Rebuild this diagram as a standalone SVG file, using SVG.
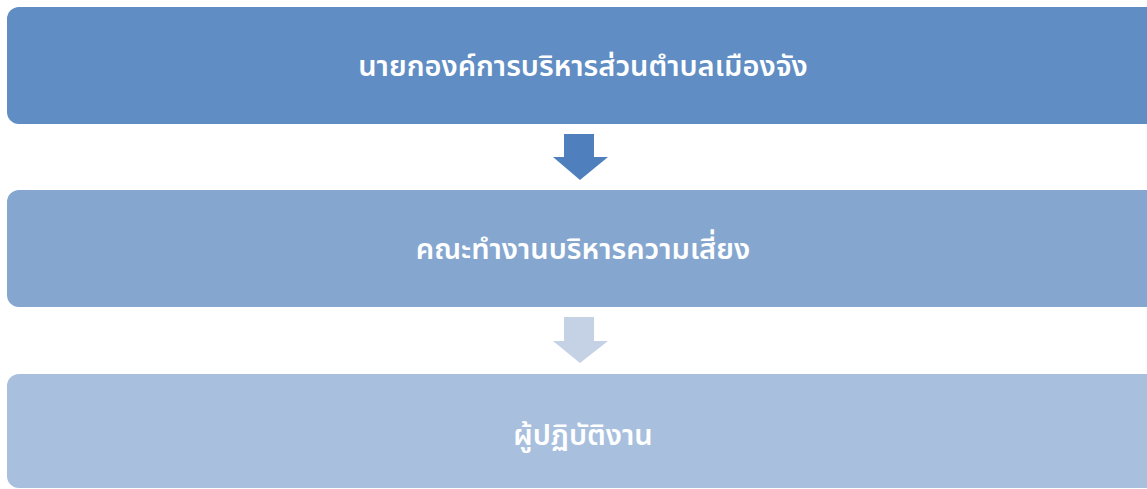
<svg xmlns="http://www.w3.org/2000/svg" width="1147" height="489" viewBox="0 0 1147 489">
<style>
.lbl{font-family:"Noto Sans Thai","Noto Sans","DejaVu Sans",sans-serif;font-size:29px;font-weight:600;fill:#ffffff;text-anchor:middle;dominant-baseline:central}
</style>
<rect width="1147" height="489" fill="#ffffff"/>
<g id="connectors">
<polygon points="564,134 594,134 594,157 608,157 580,180 553,157 564,157" fill="#4f7fbc"/>
<polygon points="564,317 594,317 594,341 608,341 580,363 553,341 564,341" fill="#c5d2e6"/>
</g>
<g id="node1">
<rect x="7" y="7" width="1160" height="117" rx="12" fill="#5f8dc4"/>
<text class="lbl" x="583" y="67">นายกองค์การบริหารส่วนตำบลเมืองจัง</text>
</g>
<g id="node2">
<rect x="7" y="190" width="1160" height="117" rx="12" fill="#85a7cf"/>
<text class="lbl" x="583" y="250">คณะทำงานบริหารความเสี่ยง</text>
</g>
<g id="node3">
<rect x="7" y="374" width="1160" height="114" rx="12" fill="#a8c0de"/>
<text class="lbl" x="583" y="436">ผู้ปฏิบัติงาน</text>
</g>
</svg>
